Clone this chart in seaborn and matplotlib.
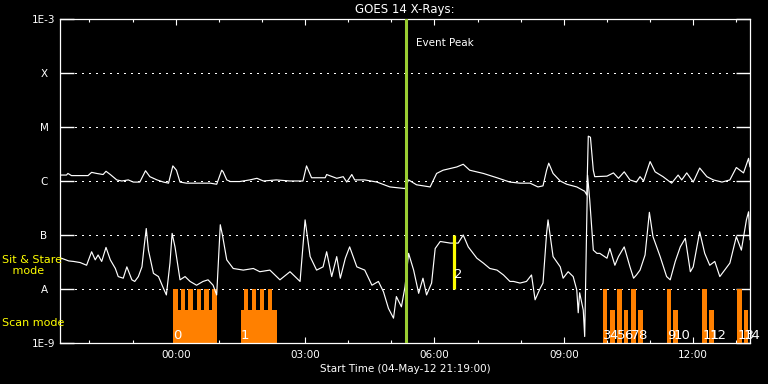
import numpy as np
import pandas as pd
import matplotlib
matplotlib.use("Agg")
import matplotlib.pyplot as plt
import matplotlib.ticker as mticker
import matplotlib.transforms as mtransforms
import seaborn as sns

# ---------------- data ----------------
title = "GOES 14 X-Rays:"
start_label = "Start Time (04-May-12 21:19:00)"
start_minute_of_day = 21 * 60 + 19      # 21:19 UT
span_minutes = 960                       # 16 h window

# GOES long channel (1-8 A): minutes since start, log10 flux
long_t = [1, 9, 11, 16, 28, 39, 44, 51, 60, 64, 70, 79, 86, 95, 102, 111, 119, 125, 135, 144,
          151, 157, 162, 167, 176, 195, 209, 218, 225, 227, 232, 237, 250, 264, 274, 283, 301, 320,
          338, 343, 350, 369, 371, 385, 394, 399, 406, 410, 424, 441, 459, 480, 485, 496, 515, 524,
          533, 552, 561, 570, 589, 608, 626, 640, 654, 665, 672, 677, 680, 686, 696, 705, 719, 730,
          733, 735, 738, 742, 744, 761, 770, 777, 785, 793, 802, 807, 812, 821, 828, 839, 851, 860,
          865, 872, 881, 890, 900, 909, 921, 932, 941, 951, 958, 960]
long_log = [-5.89, -5.89, -5.86, -5.90, -5.90, -5.90, -5.84, -5.86, -5.88, -5.82, -5.88, -5.98,
            -6.00, -5.98, -6.02, -6.02, -5.81, -5.92, -5.98, -6.02, -6.04, -5.72, -5.80, -6.02,
            -6.04, -6.04, -6.04, -6.06, -5.80, -5.83, -5.98, -6.01, -6.01, -5.98, -5.95, -6.00,
            -5.98, -6.00, -6.00, -5.72, -5.94, -5.94, -5.88, -5.95, -5.92, -6.02, -5.88, -5.98,
            -5.98, -6.02, -6.11, -6.14, -5.98, -6.07, -6.11, -5.86, -5.80, -5.74, -5.69, -5.80,
            -5.86, -5.94, -6.02, -6.04, -6.04, -6.11, -6.09, -5.80, -5.67, -5.86, -6.00, -6.06,
            -6.11, -6.19, -6.26, -5.17, -5.19, -5.80, -5.92, -5.91, -5.85, -5.95, -5.83, -5.98,
            -6.02, -5.92, -6.00, -5.64, -5.83, -5.92, -6.04, -5.89, -5.98, -5.85, -6.02, -5.76,
            -5.92, -5.98, -6.02, -5.98, -5.75, -5.85, -5.58, -5.74]

# GOES short channel (0.5-4 A)
short_t = [2, 12, 19, 28, 37, 44, 49, 53, 58, 64, 70, 77, 81, 88, 93, 100, 104, 109, 114, 117,
           120, 123, 130, 137, 144, 148, 153, 156, 160, 167, 174, 181, 190, 199, 206, 213, 218,
           223, 226, 232, 241, 255, 269, 278, 292, 306, 320, 334, 341, 348, 357, 366, 371, 378,
           385, 390, 397, 403, 413, 424, 434, 443, 450, 457, 464, 468, 475, 480, 485, 492, 499,
           505, 510, 517, 522, 529, 543, 554, 561, 568, 580, 589, 598, 608, 617, 626, 631, 640,
           649, 656, 661, 668, 672, 677, 679, 686, 696, 700, 707, 714, 719, 721, 723, 728, 730,
           734, 737, 739, 742, 747, 751, 761, 765, 772, 777, 785, 793, 798, 802, 807, 814, 820,
           825, 835, 844, 849, 856, 863, 870, 877, 881, 890, 897, 904, 911, 918, 928, 932, 941,
           948, 955, 958, 960]
short_log = [-7.43, -7.48, -7.49, -7.51, -7.56, -7.31, -7.46, -7.37, -7.49, -7.23, -7.46, -7.62,
             -7.77, -7.80, -7.59, -7.83, -7.86, -7.77, -7.59, -7.22, -6.88, -7.28, -7.71, -7.77,
             -7.99, -8.11, -7.52, -6.97, -7.22, -7.83, -7.77, -7.86, -7.93, -7.86, -7.83, -7.93,
             -8.11, -6.81, -7.00, -7.46, -7.62, -7.65, -7.62, -7.68, -7.65, -7.83, -7.68, -7.86,
             -6.72, -7.40, -7.65, -7.59, -7.31, -7.77, -7.40, -7.80, -7.43, -7.22, -7.59, -7.65,
             -7.93, -7.86, -8.05, -8.36, -8.54, -8.14, -8.33, -7.96, -7.34, -7.65, -8.08, -7.80,
             -8.11, -7.89, -7.25, -7.12, -7.15, -7.15, -7.00, -7.22, -7.43, -7.52, -7.62, -7.65,
             -7.74, -7.86, -7.86, -7.89, -7.86, -7.74, -8.20, -7.99, -7.89, -6.97, -6.72, -7.40,
             -7.59, -7.80, -7.68, -7.77, -8.02, -8.44, -8.07, -8.39, -8.88, -5.89, -6.35, -6.72,
             -7.28, -7.34, -7.34, -7.43, -7.25, -7.56, -7.40, -7.22, -7.59, -7.80, -7.74, -7.65,
             -7.37, -6.58, -7.03, -7.40, -7.77, -7.83, -7.49, -7.22, -7.06, -7.68, -7.59, -6.94,
             -7.34, -7.56, -7.49, -7.77, -7.59, -7.52, -7.03, -7.28, -6.72, -6.57, -7.09]

event_peak_t = 482

# observations (minutes since start)
obs_ids = list(range(15))
obs_mode = ["scan", "scan", "sit"] + ["scan"] * 12
obs_start = [157.6, 251.8, 548, 756, 765, 775.5, 785, 794.5, 804.5, 844, 853.5, 893.5, 903.5, 942.5, 951.5]
obs_end = [218.0, 301.5, 548, 761.5, 772, 781.5, 790.5, 801, 810.5, 850, 859.5, 899.5, 910, 948.5, 957.5]
obs_top = [4.1e-9, 4.1e-9, 1e-7, 1e-8, 4.1e-9, 1e-8, 4.1e-9, 1e-8, 4.1e-9, 1e-8, 4.1e-9, 1e-8, 4.1e-9, 1e-8, 4.1e-9]
sit_bottom = 1e-8
raster_start = [157.6, 168.3, 178.5, 190.2, 200.8, 211.9, 256.4, 267.5, 278.3, 289.8]
raster_width = [5.9, 5.9, 5.9, 5.9, 5.9, 5.9, 5.6, 5.6, 5.6, 5.6]
raster_top = 1e-8

level_values = [1e-9, 1e-8, 1e-7, 1e-6, 1e-5, 1e-4, 1e-3]
level_labels = ["1E-9", "A", "B", "C", "M", "X", "1E-3"]

# ---------------- style ----------------
sns.set_style("dark", {"axes.facecolor": "black", "figure.facecolor": "black"})
plt.rcParams["font.family"] = ["DejaVu Sans"]

ORANGE = "#FF8000"
GREEN = "#9ACD32"
YELLOW = "#FFFF00"

fig = plt.figure(figsize=(7.68, 3.84), dpi=100, facecolor="black")
ax = fig.add_axes([60 / 768, 41 / 384, 690 / 768, 324 / 384])
ax.set_facecolor("black")
ax.set_yscale("log")

df_long = pd.DataFrame({"t": long_t, "flux": 10.0 ** np.array(long_log)})
df_short = pd.DataFrame({"t": short_t, "flux": 10.0 ** np.array(short_log)})

# observation bars
scan_idx = [i for i, m in enumerate(obs_mode) if m == "scan"]
ax.bar([obs_start[i] for i in scan_idx],
       [obs_top[i] - 1e-9 for i in scan_idx],
       width=[obs_end[i] - obs_start[i] for i in scan_idx],
       bottom=1e-9, align="edge", color=ORANGE, linewidth=0, zorder=2)
ax.bar(raster_start, [raster_top - 1e-9] * len(raster_start), width=raster_width,
       bottom=1e-9, align="edge", color=ORANGE, linewidth=0, zorder=2)
for i, m in enumerate(obs_mode):
    if m == "sit":
        ax.vlines(obs_start[i], sit_bottom, obs_top[i], color=YELLOW, lw=2.3, zorder=4)

# GOES curves
sns.lineplot(data=df_long, x="t", y="flux", ax=ax, color="white", lw=0.85,
             estimator=None, sort=False, zorder=3)
sns.lineplot(data=df_short, x="t", y="flux", ax=ax, color="white", lw=0.85,
             estimator=None, sort=False, zorder=3)

# dotted level lines
tick_frac = 15 / 690
for lv in level_values[1:-1]:
    gl = ax.axhline(lv, xmin=tick_frac, xmax=1 - tick_frac, color="white", lw=0.75,
                    ls=(0, (1.4, 5.2)), zorder=1)
    gl.set_antialiased(False)

# event peak
ax.axvline(event_peak_t, color=GREEN, lw=2.2, zorder=5)
ax.annotate("Event Peak", xy=(event_peak_t, 3.6e-4), xytext=(10, 0),
            textcoords="offset pixels", color="white", fontsize=7.5,
            ha="left", va="center")

# observation labels
for i, m in enumerate(obs_mode):
    if m == "scan":
        ax.text(obs_start[i], 1.19e-9, str(obs_ids[i]), color="white", fontsize=9.5,
                ha="left", va="baseline", zorder=6)
    else:
        ax.text(obs_start[i] + 0.5, 1.58e-8, str(obs_ids[i]), color="white", fontsize=9.5,
                ha="left", va="baseline", zorder=6)

# axes limits and ticks
ax.set_xlim(0, span_minutes)
ax.set_ylim(level_values[0], level_values[-1])

first_hour = (60 - start_minute_of_day % 60) % 60
hour_ticks = np.arange(first_hour, span_minutes + 1, 60)
major_ticks = [t for t in hour_ticks if ((start_minute_of_day + t) // 60) % 3 == 0]
ax.xaxis.set_major_locator(mticker.FixedLocator(major_ticks))
ax.xaxis.set_minor_locator(mticker.FixedLocator(hour_ticks))


def fmt_time(v, pos=None):
    tot = int(round(start_minute_of_day + v))
    return f"{(tot // 60) % 24:02d}:{tot % 60:02d}"


ax.xaxis.set_major_formatter(mticker.FuncFormatter(fmt_time))
ax.yaxis.set_major_locator(mticker.FixedLocator(level_values))
ax.yaxis.set_minor_locator(mticker.NullLocator())
ax.set_yticklabels(level_labels)

ax.tick_params(axis="x", which="major", direction="in", length=4.3, width=0.8,
               colors="white", top=True, bottom=True, labelsize=7.5, pad=5)
ax.tick_params(axis="x", which="minor", direction="in", length=2.2, width=0.8,
               colors="white", top=True, bottom=True)
ax.tick_params(axis="y", which="major", direction="in", length=10, width=1.0,
               colors="white", left=True, right=True, labelsize=7.5, pad=11.5)
for lab in ax.get_yticklabels():
    lab.set_horizontalalignment("center")

for s in ax.spines.values():
    s.set_color("white")
    s.set_linewidth(0.9)
    s.set_visible(True)

ax.grid(False)
ax.set_ylabel("")
ax.set_xlabel(start_label, color="white", fontsize=7.5, labelpad=3)
ax.set_title(title, color="white", fontsize=8.5, pad=4)

# mode labels at left
trans = mtransforms.blended_transform_factory(fig.transFigure, ax.transData)
ax.text(2 / 768, 2.72e-8, "Sit & Stare\n   mode", transform=trans, color=YELLOW,
        fontsize=8, ha="left", va="center", linespacing=1.2, clip_on=False)
ax.text(2 / 768, 2.35e-9, "Scan mode", transform=trans, color=YELLOW,
        fontsize=8, ha="left", va="center", clip_on=False)

fig.savefig("out.png", dpi=100, facecolor="black")
